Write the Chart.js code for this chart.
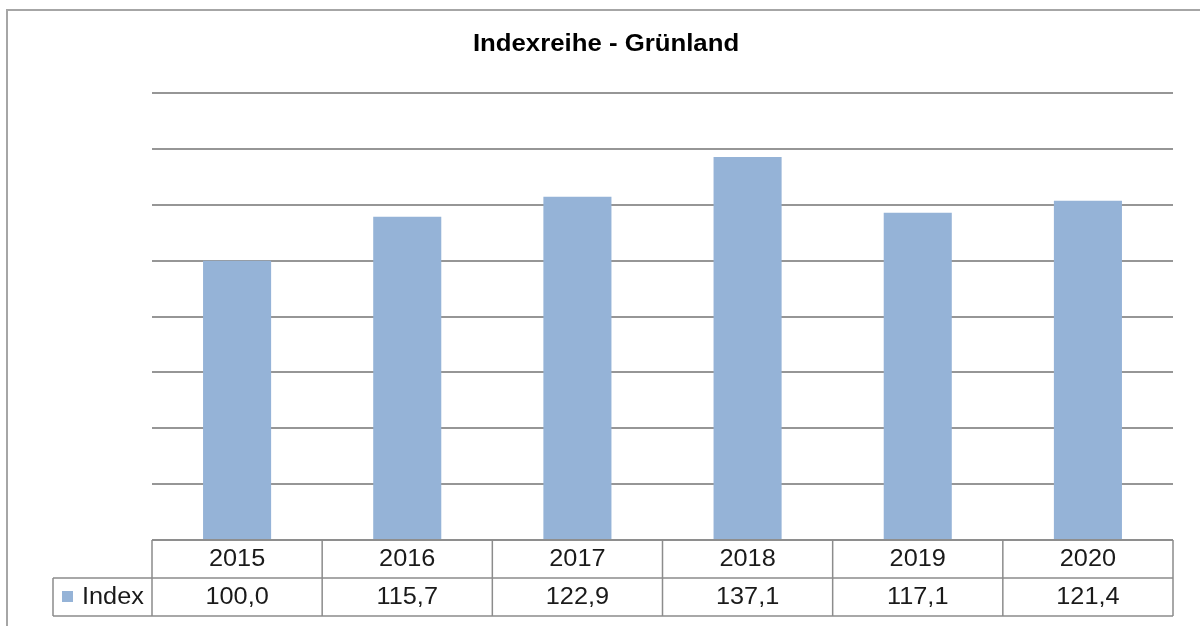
<!DOCTYPE html>
<html>
<head>
<meta charset="utf-8">
<script src="https://cdn.jsdelivr.net/npm/chart.js@4/dist/chart.umd.min.js"></script>
<style>
  html, body { margin: 0; padding: 0; background: #ffffff; }
  canvas { display: block; }
</style>
</head>
<body>
<canvas id="c" width="1200" height="626"></canvas>
<script>
const chartTitle = 'Indexreihe - Grünland';
const categories = ['2015', '2016', '2017', '2018', '2019', '2020'];
const seriesName = 'Index';
const indexValues = [100.0, 115.7, 122.9, 137.1, 117.1, 121.4];
const yMin = 0, yMax = 160, yStep = 20;

const barColor = '#95b3d7';
const gridColor = '#969696';
const tableLineColor = '#8c8c8c';
const textColor = '#1a1a1a';
const fontFamily = '"Liberation Sans", Arial, sans-serif';

function fmt(v) { return v.toFixed(1).replace('.', ','); }

function drawScaledText(ctx, text, x, y, sx, align) {
  ctx.save();
  ctx.translate(x, y);
  ctx.scale(sx, 1);
  ctx.textAlign = align;
  ctx.textBaseline = 'middle';
  ctx.fillText(text, 0, 0);
  ctx.restore();
}

const framePlugin = {
  id: 'frame',
  beforeDraw(chart) {
    const ctx = chart.ctx;
    ctx.save();
    ctx.fillStyle = '#ffffff';
    ctx.fillRect(0, 0, chart.width, chart.height);
    ctx.strokeStyle = '#a6a6a6';
    ctx.lineWidth = 2;
    ctx.strokeRect(7, 10, chart.width + 20, chart.height + 40);
    ctx.restore();
  },
  afterDraw(chart) {
    const ctx = chart.ctx;
    const area = chart.chartArea;
    const xs = chart.scales.x;
    const n = categories.length;
    const catW = (area.right - area.left) / n;
    const row1Top = area.bottom;
    const row1Bot = row1Top + 38;
    const row2Bot = row1Bot + 38;
    const labelLeft = 53;

    ctx.save();
    // title
    ctx.fillStyle = '#000000';
    ctx.font = 'bold 23px ' + fontFamily;
    drawScaledText(ctx, chartTitle, 606, 45, 1.12, 'center');

    // table lines
    ctx.strokeStyle = tableLineColor;
    ctx.lineWidth = 1.5;
    ctx.beginPath();
    ctx.moveTo(area.left, row1Top); ctx.lineTo(area.right, row1Top);
    ctx.moveTo(labelLeft, row1Bot); ctx.lineTo(area.right, row1Bot);
    ctx.moveTo(labelLeft, row2Bot); ctx.lineTo(area.right, row2Bot);
    ctx.moveTo(labelLeft, row1Bot); ctx.lineTo(labelLeft, row2Bot);
    for (let i = 0; i <= n; i++) {
      const x = area.left + i * catW;
      ctx.moveTo(x, row1Top); ctx.lineTo(x, row2Bot);
    }
    ctx.stroke();

    // table text
    ctx.fillStyle = textColor;
    ctx.font = '23px ' + fontFamily;
    for (let i = 0; i < n; i++) {
      const cx = xs.getPixelForValue(i);
      drawScaledText(ctx, categories[i], cx, (row1Top + row1Bot) / 2 + 1, 1.1, 'center');
      drawScaledText(ctx, fmt(indexValues[i]), cx, (row1Bot + row2Bot) / 2 + 1, 1.1, 'center');
    }
    // legend key + series name
    ctx.fillStyle = barColor;
    ctx.fillRect(62, 591, 11, 11);
    ctx.fillStyle = textColor;
    drawScaledText(ctx, seriesName, 82, (row1Bot + row2Bot) / 2 + 1, 1.1, 'left');
    ctx.restore();
  }
};

new Chart(document.getElementById('c'), {
  type: 'bar',
  data: {
    labels: categories,
    datasets: [{
      label: seriesName,
      data: indexValues,
      backgroundColor: barColor,
      borderWidth: 0,
      barPercentage: 0.4,
      categoryPercentage: 1.0
    }]
  },
  options: {
    responsive: false,
    animation: false,
    layout: { padding: { left: 152, right: 27, top: 93, bottom: 86 } },
    plugins: {
      legend: { display: false },
      title: { display: false },
      tooltip: { enabled: false }
    },
    scales: {
      x: { display: false },
      y: {
        min: yMin, max: yMax,
        ticks: { display: false, stepSize: yStep },
        border: { display: false },
        grid: { color: gridColor, lineWidth: 2, drawTicks: false }
      }
    }
  },
  plugins: [framePlugin]
});
</script>
</body>
</html>
